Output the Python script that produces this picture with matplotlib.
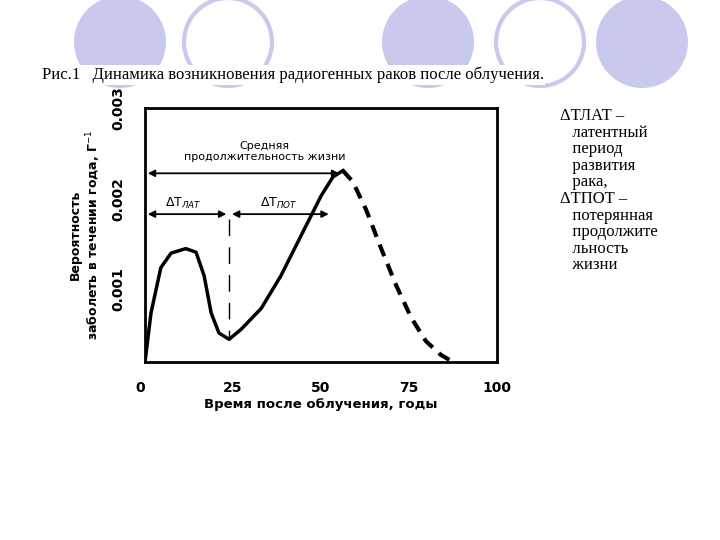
import matplotlib
matplotlib.use("Agg")
from matplotlib import pyplot as plt
from matplotlib.patches import Circle

# curve
solid_x = [0, 1.7, 4.5, 7.4, 11.6, 14.5, 16.8, 18.8, 21, 23.9, 27.3, 33, 38.6, 44.3, 50, 53.4, 56.2]
solid_y = [0.0002, 0.00074, 0.00124, 0.0014, 0.00145, 0.00141, 0.00115, 0.00074, 0.00052, 0.00045,
           0.00056, 0.00079, 0.00115, 0.00159, 0.00203, 0.00224, 0.00231]
dash_x = [56.2, 59, 62.8, 67, 71.3, 75.6, 79.8, 84, 87.5]
dash_y = [0.00231, 0.00219, 0.00188, 0.00146, 0.00105, 0.00069, 0.00043, 0.00028, 0.0002]

x_ticks = [0, 25, 50, 75, 100]
y_ticks = [0.001, 0.002, 0.003]

W, H = 720, 540
fig = plt.figure(figsize=(7.2, 5.4), dpi=100)

# decorative circles
bg = fig.add_axes([0, 0, 1, 1])
bg.set_xlim(0, W)
bg.set_ylim(H, 0)
bg.axis("off")
for cx, filled in [(120, True), (228, False), (428, True), (540, False), (642, True)]:
    if filled:
        bg.add_patch(Circle((cx, 42), 46, facecolor="#c9c9ee", edgecolor="none"))
    else:
        bg.add_patch(Circle((cx, 42), 44, facecolor="white", edgecolor="#c9c9ee", lw=3))
bg.text(42, 75, "Рис.1   Динамика возникновения радиогенных раков после облучения.",
        fontsize=12, family="Liberation Serif", va="center", ha="left",
        bbox=dict(facecolor="white", edgecolor="none", pad=1))
bg.text(560, 108, "ΔТЛАТ –\n   латентный\n   период\n   развития\n   рака,\nΔТПОТ –\n   потерянная\n   продолжите\n   льность\n   жизни",
        fontsize=12, family="Liberation Serif", va="top", ha="left", linespacing=1.05)

# main axes: x 145..497 px, y 108..362 px
ax = fig.add_axes([145 / W, 1 - 362 / H, (497 - 145) / W, (362 - 108) / H])
ax.set_xlim(0, 100)
ax.set_ylim(0.0002, 0.00282)
for s in ax.spines.values():
    s.set_linewidth(2)
ax.plot(solid_x, solid_y, color="black", lw=2.5)
ax.plot(dash_x, dash_y, color="black", lw=3, dashes=(3, 2))

ax.set_xticks(x_ticks)
ax.set_xticklabels([str(v) for v in x_ticks], fontweight="bold", fontsize=10)
ax.set_yticks(y_ticks)
ax.set_yticklabels([str(v) for v in y_ticks], fontweight="bold", fontsize=10, rotation=90, va="center")
ax.tick_params(length=0, pad=14)
ax.xaxis.get_majorticklabels()[0].set_horizontalalignment("right")
ax.set_xlabel("Время после облучения, годы", fontweight="bold", fontsize=9.5, labelpad=2)
ax.set_ylabel("Вероятность\nзаболеть в течении года, Г$^{-1}$", fontsize=9, labelpad=6,
              fontweight="bold")

arrow = dict(arrowstyle="<|-|>", color="black", lw=1.3, mutation_scale=10)
ax.annotate("", xy=(0, 0.00228), xytext=(56, 0.00228), arrowprops=arrow)
ax.text(34, 0.00252, "Средняя\nпродолжительность жизни", ha="center", va="center", fontsize=8)
ax.annotate("", xy=(0, 0.00183), xytext=(23.9, 0.00183), arrowprops=arrow)
ax.annotate("", xy=(23.9, 0.00183), xytext=(53, 0.00183), arrowprops=arrow)
ax.text(11, 0.00195, "ΔT$_{ЛАТ}$", ha="center", va="center", fontsize=9)
ax.text(38, 0.00195, "ΔT$_{ПОТ}$", ha="center", va="center", fontsize=9)
ax.plot([23.9, 23.9], [0.00178, 0.00048], color="black", lw=1, dashes=(12, 8))

fig.savefig("out.png", dpi=100)
